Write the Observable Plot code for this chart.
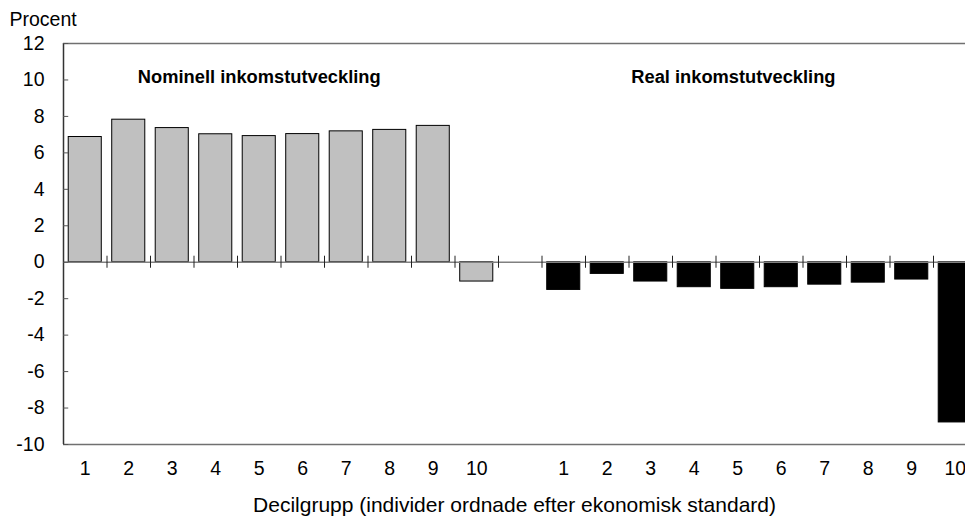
<!DOCTYPE html>
<html><head><meta charset="utf-8">
<script src="https://cdn.jsdelivr.net/npm/d3@7"></script>
<script src="https://cdn.jsdelivr.net/npm/@observablehq/plot@0.6"></script>
<style>html,body{margin:0;padding:0;background:#fff;overflow:hidden}#chart{width:965px;height:517px;overflow:hidden}</style>
</head><body><div id="chart"></div>
<script>
const deciles = ["1","2","3","4","5","6","7","8","9","10"];
const nominal = [6.87, 7.82, 7.36, 7.02, 6.92, 7.03, 7.18, 7.26, 7.48, -1.06];
const real = [-1.52, -0.64, -1.06, -1.37, -1.46, -1.37, -1.23, -1.12, -0.95, -8.79];
const groupTitles = ["Nominell inkomstutveckling", "Real inkomstutveckling"];
const groupColors = ["#c0c0c0", "#000000"];
const yTicks = [-10, -8, -6, -4, -2, 0, 2, 4, 6, 8, 10, 12];
const yLabel = "Procent";
const xTitle = "Decilgrupp (individer ordnade efter ekonomisk standard)";

// slot positions: nominal 0..9, empty slot 10, real 11..20
const gapSlots = 1;
const rows = [
  ...nominal.map((v, i) => ({pos: i, label: deciles[i], value: v, g: 0})),
  ...real.map((v, i) => ({pos: i + deciles.length + gapSlots, label: deciles[i], value: v, g: 1}))
];
const nSlots = deciles.length * 2 + gapSlots;
const boundaries = d3.range(1, nSlots).map(k => k - 0.5);
const half = 0.38;
const font = "'Liberation Sans', Arial, sans-serif";

const chart = Plot.plot({
  width: 965,
  height: 517,
  marginLeft: 63,
  marginTop: 43,
  marginBottom: 73,
  marginRight: 0,
  style: {fontFamily: font, fontSize: "19.5px", color: "#000", background: "#fff"},
  x: {domain: [-0.5, nSlots - 0.5], range: [63, 976.5], axis: null},
  y: {domain: [-10, 12], axis: null},
  marks: [
    Plot.rect(rows, {x1: d => d.pos - half, x2: d => d.pos + half, y1: 0, y2: "value",
      fill: d => groupColors[d.g], stroke: "#000", strokeWidth: 1}),
    Plot.ruleY([0], {x1: -0.5, x2: nSlots, stroke: "#808080", strokeWidth: 1.5}),
    Plot.ruleX(boundaries, {y1: -0.33, y2: 0.33, stroke: "#222", strokeWidth: 1}),
    Plot.ruleY([12, -10], {x1: -0.5, x2: nSlots, stroke: "#707070", strokeWidth: 1.5}),
    Plot.ruleX([-0.5], {y1: -10, y2: 12, stroke: "#333", strokeWidth: 1.5}),
    Plot.ruleY(yTicks, {x1: -0.5, x2: -0.38, stroke: "#555"}),
    Plot.text(yTicks, {x: -0.5, y: d => d, text: d => String(d), textAnchor: "end",
      dx: -19, fontSize: 19.5}),
    Plot.text(rows, {x: "pos", text: "label", frameAnchor: "bottom", lineAnchor: "middle",
      dy: 24, fontSize: 19.5}),
    Plot.text(groupTitles, {x: (d, i) => i === 0 ? 4 : 14.9, y: 10.13, text: d => d,
      fontWeight: "bold", fontSize: 18.3}),
    Plot.text([xTitle], {frameAnchor: "bottom", lineAnchor: "middle", dy: 60.5, fontSize: 21}),
    Plot.text([yLabel], {frameAnchor: "top-left", textAnchor: "start", lineAnchor: "middle",
      dx: -54, dy: -23.3, fontSize: 19.5})
  ]
});
document.getElementById("chart").appendChild(chart);
</script>
</body></html>
